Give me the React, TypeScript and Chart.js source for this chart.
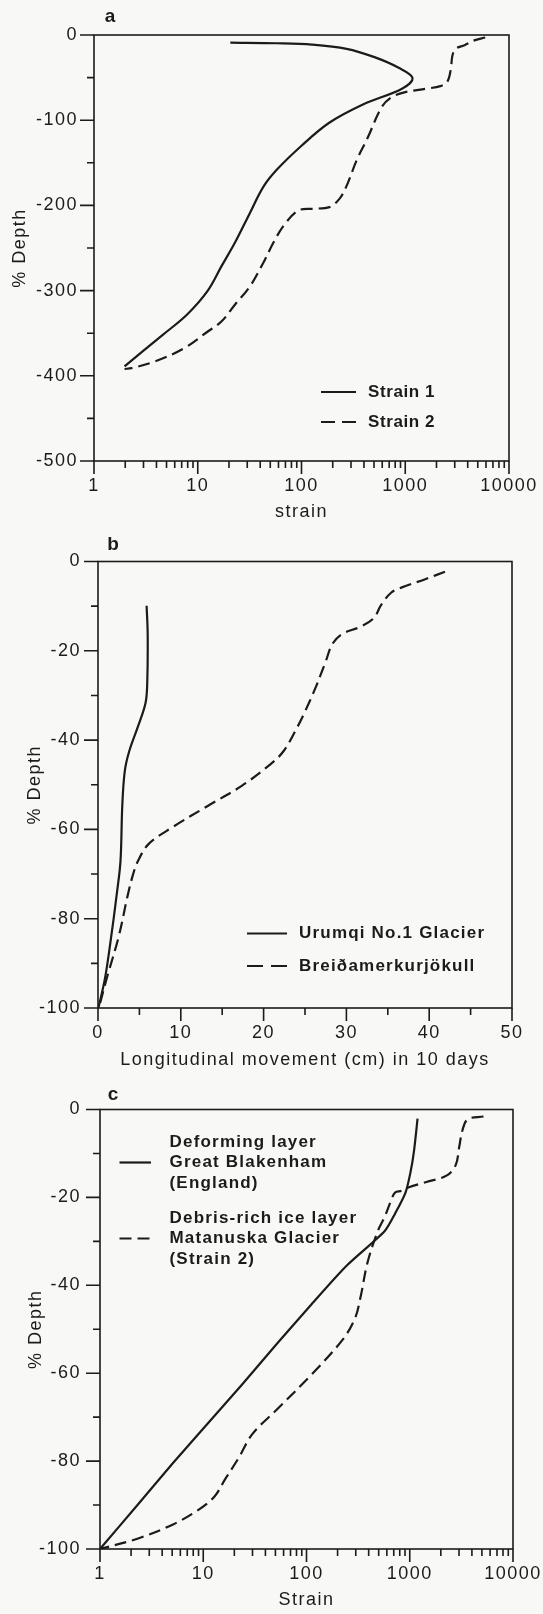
import React, { useEffect, useRef } from 'react';
import { Chart, registerables } from 'chart.js';

Chart.register(...registerables);

// ---------- Panel a ----------
const aStrain1X = [20.6, 58, 126, 272, 505, 864, 1175, 930, 400, 185, 100, 58, 43, 31.5, 23, 17, 12.5, 7.9, 4.6, 2.9, 1.97];
const aStrain1Y = [-8.9, -9.7, -11.3, -16.2, -26, -38.5, -50.6, -63, -81, -103, -130, -158, -178, -210, -243, -271, -300, -328, -352, -372, -389];
const aStrain2X = [5900, 4700, 3730, 3080, 2850, 2750, 2540, 2180, 1600, 1000, 740, 590, 433, 343, 270, 233, 186, 126, 93, 68, 54, 43, 31.5, 23, 17, 12.5, 7.3, 3.9, 2.3, 1.97];
const aStrain2Y = [-3, -6, -12, -16, -24, -40, -55, -60, -63, -67, -73, -85, -121, -146, -178, -192, -202, -204, -206, -223, -243, -267, -296, -316, -336, -348, -368, -383, -391, -392];
const aXTicks = [1, 10, 100, 1000, 10000];
const aYTicks = [-500, -400, -300, -200, -100, 0];
const aYMinor = [-450, -350, -250, -150, -50];
const aLabels = ['Strain 1', 'Strain 2'];

// ---------- Panel b ----------
const bUrumqiX = [5.87, 6.0, 5.95, 5.74, 4.82, 3.77, 3.23, 2.93, 2.72, 2.3, 1.47, 0.84, 0.05];
const bUrumqiY = [-9.9, -16.2, -27, -31.7, -37, -42.5, -47, -54.8, -67, -74, -85.7, -93.4, -100];
const bBreidaX = [41.9, 39.6, 36.7, 35.4, 34.2, 33.3, 31.6, 29.5, 28.3, 27.5, 26.2, 24.9, 24.1, 22.4, 20.7, 17.4, 13.2, 9.0, 6.1, 4.8, 4.2, 3.56, 2.5, 1.05, 0.1];
const bBreidaY = [-2.3, -3.9, -5.8, -7, -9.7, -12.7, -14.7, -16.2, -18.5, -22.4, -28.6, -34, -37, -42.5, -45.6, -50.2, -54.8, -59.5, -63.3, -67.2, -70.3, -75, -84, -93.4, -100];
const bXTicks = [0, 10, 20, 30, 40, 50];
const bXMinor = [5, 15, 25, 35, 45];
const bYTicks = [-100, -80, -60, -40, -20, 0];
const bYMinor = [-90, -70, -50, -30, -10];
const bLabels = ['Urumqi No.1 Glacier', 'Breiðamerkurjökull'];

// ---------- Panel c ----------
const cDeformX = [1190, 1100, 1020, 910, 720, 570, 243, 112, 51.7, 23.9, 11.0, 5.07, 2.34, 1.0];
const cDeformY = [-2.1, -9.4, -14.1, -18.9, -23.7, -27.7, -35.6, -44.3, -53.3, -62.5, -71.5, -80.5, -89.8, -100];
const cMatanX = [5180, 3650, 3250, 3010, 2790, 2290, 1450, 980, 835, 720, 665, 570, 490, 390, 333, 295, 225, 112, 52, 30, 22, 16.3, 12.8, 8.7, 5.1, 2.34, 1.0];
const cMatanY = [-1.6, -2.2, -4.6, -8.6, -12.6, -15, -16.5, -17.7, -18.5, -18.9, -20.5, -24.5, -27.7, -34.8, -42.8, -47.5, -52.3, -60.3, -68.2, -73.8, -79.3, -84.1, -88.1, -91.3, -94.4, -97.6, -100];
const cXTicks = [1, 10, 100, 1000, 10000];
const cYTicks = [-100, -80, -60, -40, -20, 0];
const cYMinor = [-90, -70, -50, -30, -10];
const cLabel1 = ['Deforming layer', 'Great Blakenham', '(England)'];
const cLabel2 = ['Debris-rich ice layer', 'Matanuska Glacier', '(Strain 2)'];

const logMinor: number[] = [];
[1, 10, 100, 1000].forEach((d) => {
  for (let k = 2; k <= 9; k++) logMinor.push(d * k);
});

const INK = '#1b1b1b';
const BG = '#f8f8f6';
const FAMILY = '"Liberation Sans", Arial, Helvetica, sans-serif';
const SPACING = '1.5px';

const zip = (xs: number[], ys: number[]) => xs.map((x, i) => ({ x, y: ys[i] }));

const spacingPlugin = {
  id: 'textSpacing',
  beforeLayout(chart: any) {
    (chart.ctx as any).letterSpacing = SPACING;
  },
  beforeDraw(chart: any) {
    (chart.ctx as any).letterSpacing = SPACING;
  },
};

const frameTicksPlugin = {
  id: 'frameTicks',
  afterDatasetsDraw(chart: any, _args: any, opts: any) {
    if (!opts || !opts.enabled) return;
    const { ctx, chartArea } = chart;
    const { left, right, top, bottom } = chartArea;
    const xs = chart.scales.x;
    const ys = chart.scales.y;
    ctx.save();
    ctx.strokeStyle = INK;
    ctx.lineWidth = 1.6;
    ctx.lineCap = 'butt';
    ctx.setLineDash([]);
    ctx.strokeRect(left, top, right - left, bottom - top);
    ctx.beginPath();
    (opts.xMajor || []).forEach((v: number) => {
      const p = xs.getPixelForValue(v);
      ctx.moveTo(p, bottom);
      ctx.lineTo(p, bottom + opts.xMajorLen);
    });
    (opts.xMinor || []).forEach((v: number) => {
      const p = xs.getPixelForValue(v);
      ctx.moveTo(p, bottom);
      ctx.lineTo(p, bottom + opts.xMinorLen);
    });
    (opts.yMajor || []).forEach((v: number) => {
      const p = ys.getPixelForValue(v);
      ctx.moveTo(left, p);
      ctx.lineTo(left - opts.yMajorLen, p);
    });
    (opts.yMinor || []).forEach((v: number) => {
      const p = ys.getPixelForValue(v);
      ctx.moveTo(left, p);
      ctx.lineTo(left - opts.yMinorLen, p);
    });
    ctx.stroke();
    ctx.restore();
  },
};

const boxLegendPlugin = {
  id: 'boxLegend',
  afterDraw(chart: any, _args: any, opts: any) {
    if (!opts || !opts.enabled) return;
    const { ctx } = chart;
    ctx.save();
    ctx.fillStyle = INK;
    ctx.font = `bold ${opts.fontSize}px ${FAMILY}`;
    ctx.textBaseline = 'middle';
    ctx.textAlign = 'left';
    (ctx as any).letterSpacing = opts.letterSpacing || '0px';
    chart.data.datasets.forEach((ds: any, i: number) => {
      const lines: string[] = Array.isArray(ds.label) ? ds.label : [ds.label];
      const y0 = opts.rowY[i];
      lines.forEach((t, j) => ctx.fillText(t, opts.textX, y0 + j * opts.lineHeight));
      const sy = y0 + (opts.sampleLine ? opts.sampleLine[i] : 0) * opts.lineHeight;
      ctx.save();
      ctx.strokeStyle = INK;
      ctx.lineWidth = 2.2;
      ctx.setLineDash(ds.borderDash && ds.borderDash.length ? opts.sampleDash : []);
      ctx.beginPath();
      ctx.moveTo(opts.sampleX0, sy);
      ctx.lineTo(opts.sampleX1, sy);
      ctx.stroke();
      ctx.restore();
    });
    if (opts.panel) {
      ctx.font = `bold 19px ${FAMILY}`;
      ctx.textAlign = 'center';
      (ctx as any).letterSpacing = '0px';
      ctx.fillText(opts.panel.text, opts.panel.x, opts.panel.y);
    }
    ctx.restore();
  },
};

Chart.register(spacingPlugin as any, frameTicksPlugin as any, boxLegendPlugin as any);

type PanelSpec = {
  datasets: any[];
  xType: 'linear' | 'logarithmic';
  xMin: number;
  xMax: number;
  xTicks: number[];
  xMinor: number[];
  yMin: number;
  yMax: number;
  yTicks: number[];
  yMinor: number[];
  xTitle: string;
  yAxisWidth: number;
  xAxisHeight: number;
  padTop: number;
  padRight: number;
  xTitleBottom: number;
  yTitleLeft: number;
  yTickPad: number;
  legend: any;
};

function makeConfig(s: PanelSpec): any {
  const tickFont = { family: FAMILY, size: 18 };
  const titleFont = { family: FAMILY, size: 18 };
  return {
    type: 'scatter',
    data: { datasets: s.datasets },
    options: {
      responsive: false,
      animation: false,
      layout: { padding: { top: s.padTop, right: s.padRight, left: 0, bottom: 0 } },
      elements: { point: { radius: 0 } },
      plugins: {
        legend: { display: false },
        tooltip: { enabled: false },
        frameTicks: {
          enabled: true,
          xMajor: s.xTicks,
          xMinor: s.xMinor,
          yMajor: s.yTicks,
          yMinor: s.yMinor,
          xMajorLen: 13,
          xMinorLen: 7,
          yMajorLen: 14,
          yMinorLen: 7,
        },
        boxLegend: s.legend,
      },
      scales: {
        x: {
          type: s.xType,
          min: s.xMin,
          max: s.xMax,
          afterBuildTicks: (sc: any) => {
            sc.ticks = s.xTicks.map((v) => ({ value: v }));
          },
          afterFit: (sc: any) => {
            sc.height = s.xAxisHeight;
          },
          grid: { display: true, drawOnChartArea: false, drawTicks: true, tickLength: 13, tickColor: 'rgba(0,0,0,0)' },
          border: { display: false },
          ticks: {
            autoSkip: false,
            maxRotation: 0,
            padding: 1,
            color: INK,
            font: tickFont,
            callback: (v: any) => String(v),
          },
          title: { display: true, text: s.xTitle, color: INK, font: titleFont, padding: { top: 0, bottom: s.xTitleBottom } },
        },
        y: {
          type: 'linear',
          min: s.yMin,
          max: s.yMax,
          afterBuildTicks: (sc: any) => {
            sc.ticks = s.yTicks.map((v) => ({ value: v }));
          },
          afterFit: (sc: any) => {
            sc.width = s.yAxisWidth;
          },
          grid: { display: true, drawOnChartArea: false, drawTicks: true, tickLength: 14, tickColor: 'rgba(0,0,0,0)' },
          border: { display: false },
          ticks: {
            autoSkip: false,
            padding: s.yTickPad,
            color: INK,
            font: tickFont,
            callback: (v: any) => String(v),
          },
          title: { display: true, text: '% Depth', color: INK, font: titleFont, padding: { top: s.yTitleLeft, bottom: 0 } },
        },
      },
    },
  };
}

const solid = (label: any, data: any[], tension = 0.35) => ({
  label,
  data,
  showLine: true,
  borderColor: INK,
  borderWidth: 2.2,
  borderDash: [],
  tension,
  pointRadius: 0,
  fill: false,
});
const dashed = (label: any, data: any[], tension = 0.35) => ({
  label,
  data,
  showLine: true,
  borderColor: INK,
  borderWidth: 2.2,
  borderDash: [12, 6],
  tension,
  pointRadius: 0,
  fill: false,
});

const specA: PanelSpec = {
  datasets: [solid(aLabels[0], zip(aStrain1X, aStrain1Y)), dashed(aLabels[1], zip(aStrain2X, aStrain2Y))],
  xType: 'logarithmic',
  xMin: 1,
  xMax: 10000,
  xTicks: aXTicks,
  xMinor: logMinor,
  yMin: -500,
  yMax: 0,
  yTicks: aYTicks,
  yMinor: aYMinor,
  xTitle: 'strain',
  yAxisWidth: 94,
  xAxisHeight: 69,
  padTop: 35,
  padRight: 34,
  xTitleBottom: 7,
  yTitleLeft: 9,
  yTickPad: 2,
  legend: {
    enabled: true,
    fontSize: 17,
    letterSpacing: '0.6px',
    textX: 368,
    rowY: [392, 422],
    lineHeight: 20,
    sampleX0: 321,
    sampleX1: 356,
    sampleDash: [14, 7],
    panel: { text: 'a', x: 110, y: 17 },
  },
};

const specB: PanelSpec = {
  datasets: [solid(bLabels[0], zip(bUrumqiX, bUrumqiY)), dashed(bLabels[1], zip(bBreidaX, bBreidaY))],
  xType: 'linear',
  xMin: 0,
  xMax: 50,
  xTicks: bXTicks,
  xMinor: bXMinor,
  yMin: -100,
  yMax: 0,
  yTicks: bYTicks,
  yMinor: bYMinor,
  xTitle: 'Longitudinal movement (cm) in 10 days',
  yAxisWidth: 98,
  xAxisHeight: 67,
  padTop: 31.5,
  padRight: 31,
  xTitleBottom: 4,
  yTitleLeft: 24,
  yTickPad: 3,
  legend: {
    enabled: true,
    fontSize: 17,
    letterSpacing: '1.2px',
    textX: 299,
    rowY: [403.5, 436],
    lineHeight: 20,
    sampleX0: 247,
    sampleX1: 287,
    sampleDash: [16, 8],
    panel: { text: 'b', x: 113, y: 15 },
  },
};

const specC: PanelSpec = {
  datasets: [solid(cLabel1, zip(cDeformX, cDeformY), 0.25), dashed(cLabel2, zip(cMatanX, cMatanY))],
  xType: 'logarithmic',
  xMin: 1,
  xMax: 10000,
  xTicks: cXTicks,
  xMinor: logMinor,
  yMin: -100,
  yMax: 0,
  yTicks: cYTicks,
  yMinor: cYMinor,
  xTitle: 'Strain',
  yAxisWidth: 100,
  xAxisHeight: 65,
  padTop: 34.5,
  padRight: 30,
  xTitleBottom: 3,
  yTitleLeft: 25.5,
  yTickPad: 5,
  legend: {
    enabled: true,
    fontSize: 17,
    letterSpacing: '1.2px',
    textX: 169.5,
    rowY: [67, 143],
    lineHeight: 20.5,
    sampleLine: [1, 1],
    sampleX0: 119.5,
    sampleX1: 151,
    sampleDash: [12, 6],
    panel: { text: 'c', x: 113, y: 20 },
  },
};

function Panel({ spec, top, height }: { spec: PanelSpec; top: number; height: number }) {
  const ref = useRef<HTMLCanvasElement>(null);
  useEffect(() => {
    if (!ref.current) return;
    const chart = new Chart(ref.current, makeConfig(spec));
    return () => chart.destroy();
  }, [spec]);
  return (
    <div style={{ position: 'absolute', left: 0, top, width: 543, height }}>
      <canvas ref={ref} width={543} height={height} style={{ display: 'block', width: 543, height }} />
    </div>
  );
}

export default function App() {
  return (
    <div style={{ position: 'absolute', left: 0, top: 0, width: 543, height: 1614, background: BG, overflow: 'hidden' }}>
      <Panel spec={specA} top={0} height={530} />
      <Panel spec={specB} top={530} height={545} />
      <Panel spec={specC} top={1075} height={539} />
    </div>
  );
}
